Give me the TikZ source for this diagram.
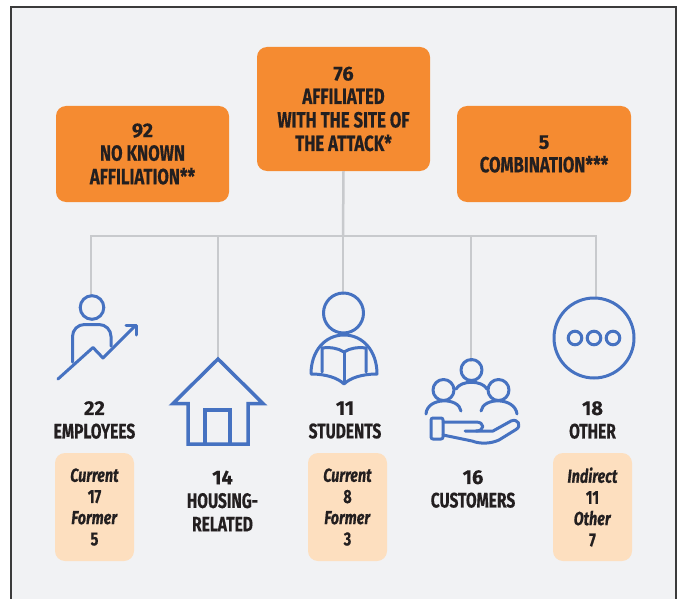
\documentclass[tikz,border=0pt]{standalone}
\usepackage{fontspec}
\setmainfont{Fira Sans}
\newfontfamily\condfont{Fira Sans}[FakeStretch=0.76, FakeBold=0.4]
\newfontfamily\capfont{Fira Sans}[FakeStretch=0.74, FakeBold=0.4]
\newfontfamily\numfont{Fira Sans}[FakeBold=0.3]
\usepackage{tikz}
\usetikzlibrary{positioning}
\definecolor{panel}{RGB}{241,242,244}
\definecolor{frame}{RGB}{59,59,59}
\definecolor{boxorange}{RGB}{245,139,49}
\definecolor{peach}{RGB}{253,223,191}
\definecolor{iconblue}{RGB}{70,114,193}
\definecolor{linegray}{RGB}{200,202,205}
\definecolor{ink}{RGB}{35,31,32}
\newcommand\cnt[1]{{\numfont\bfseries\fontsize{20}{23.5}\selectfont #1}}

\begin{document}
\begin{tikzpicture}[x=1pt, y=-1pt,
    orangebox/.style={fill=boxorange, rounded corners=10pt, text=ink, align=center,
      minimum width=173pt, font=\condfont\bfseries\fontsize{22}{23.5}\selectfont},
    peachbox/.style={fill=peach, rounded corners=10pt, text=ink, align=center,
      minimum width=79pt, minimum height=108pt, font=\condfont\bfseries\fontsize{19}{21.2}\selectfont},
    caption/.style={text=ink, align=center, font=\capfont\bfseries\fontsize{21}{23.5}\selectfont},
    branch/.style={linegray, line width=2.5pt},
    icon/.style={iconblue, line width=3pt, line cap=round, line join=round}]
        \useasboundingbox (0,0) rectangle (680,599);
        \clip (0,0) rectangle (680,599);
        \fill [white] (0,0) rectangle (680,599);
        \draw [frame, line width=2pt, fill=panel] (11,7) rectangle (676,640);

        % top boxes
        \node [orangebox, minimum height=96pt] (none) at (142.5,154) {\cnt{92}\\NO KNOWN\\AFFILIATION**};
        \node [orangebox, minimum height=124pt] (site) at (343.5,109) {\cnt{76}\\AFFILIATED\\WITH THE SITE OF\\THE ATTACK*};
        \node [orangebox, minimum height=96pt, minimum width=174pt] (combo) at (544,154) {\cnt{5}\\COMBINATION***};

        % tree
        \coordinate (hub) at (343,236);
        \coordinate (empTop) at (91,296);
        \coordinate (houTop) at (218,360);
        \coordinate (stuTop) at (343,295);
        \coordinate (cusTop) at (471,362);
        \coordinate (othTop) at (596,299);
        \draw [branch] (site.south) -- (hub);
        \draw [branch] (empTop) -- (empTop |- hub) -- (othTop |- hub) -- (othTop);
        \draw [branch] (houTop |- hub) -- (houTop);
        \draw [branch] (stuTop |- hub) -- (stuTop);
        \draw [branch] (cusTop |- hub) -- (cusTop);

        % employees
        \draw [icon] (92,307.5) circle (11.8pt);
        \draw [icon, rounded corners=12pt] (72.5,362) -- (72.5,324.5) -- (111,324.5) -- (111,346);
        \draw [icon] (58,379) -- (93,347.5) -- (103,358) -- (135.5,325.5);
        \draw [icon] (126,325) -- (136,325) -- (136,335);

        % housing
        \draw [icon, line width=3.5pt, line join=miter, line cap=butt] (173,403.5) -- (218,359) -- (263,403.5) -- (248,403.5) -- (248,444) -- (188,444) -- (188,403.5) -- cycle;
        \draw [icon, line width=3.5pt, line join=miter, line cap=butt] (205,444) -- (205,410) -- (230,410) -- (230,444);

        % students
        \draw [icon] (343.5,313) circle (20pt);
        \draw [icon] (311,374) .. controls (311,351) and (325,335) .. (344,335) .. controls (363,335) and (377,351) .. (377,374)
          .. controls (362,374) and (350,378) .. (344,384) .. controls (338,378) and (326,374) .. (311,374);
        \draw [icon] (322,372) -- (322,348) .. controls (330,347) and (338,348) .. (344,352) .. controls (350,348) and (358,347) .. (366,348) -- (366,372);
        \draw [icon] (344,352) -- (344,383);

        % customers
        \draw [icon] (471.5,370) circle (10.5pt);
        \draw [icon] (443.5,390) circle (10.5pt);
        \draw [icon] (498.5,390) circle (10.5pt);
        \draw [icon] (456,389) .. controls (461,380) and (482,380) .. (487,389);
        \draw [icon] (426,414) .. controls (427,397) and (459,397) .. (461,411);
        \draw [icon] (481,411) .. controls (483,397) and (515,397) .. (517,414);
        \draw [icon, rounded corners=2pt] (431,418) rectangle (443,439);
        \draw [icon] (443,422) -- (476,422) .. controls (485,422) and (485,431) .. (476,431) -- (465,431);
        \draw [icon] (476,431) -- (493,431) -- (511,421) .. controls (518,418) and (522,426) .. (516,429.5)
          -- (499,440) .. controls (490,444) and (480,444) .. (472,441) -- (443,435);

        % other
        \draw [icon] (594,338) circle (40pt);
        \foreach \dx in {-19,0,19}
          \draw [icon] (594+\dx,338) circle (6.8pt);

        % captions
        \node [caption] (emp) at (94.5,420) {\cnt{22}\\EMPLOYEES};
        \node [caption] (stu) at (345,420) {\cnt{11}\\STUDENTS};
        \node [caption] (oth) at (592.5,420) {\cnt{18}\\OTHER};
        \node [caption] (hou) at (222.5,501) {\cnt{14}\\HOUSING-\\RELATED};
        \node [caption] (cus) at (473,489) {\cnt{16}\\CUSTOMERS};

        % split boxes
        \node [peachbox] (empSplit) at (94.5,507) {\textit{Current}\\17\\\textit{Former}\\5};
        \node [peachbox] (stuSplit) at (347.5,507) {\textit{Current}\\8\\\textit{Former}\\3};
        \node [peachbox] (othSplit) at (592.5,507) {\textit{Indirect}\\11\\\textit{Other}\\7};
        % \node [peachbox] at (470,507) {};
      \end{tikzpicture}
\end{document}
